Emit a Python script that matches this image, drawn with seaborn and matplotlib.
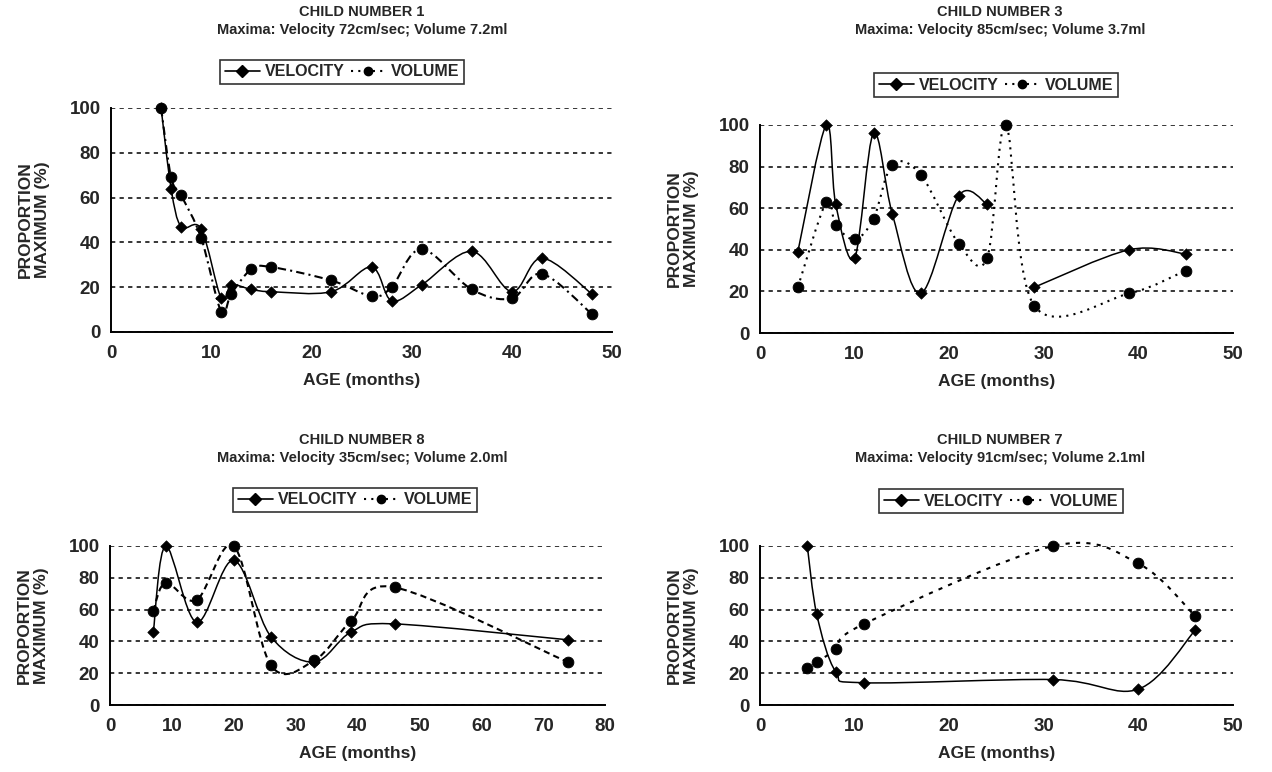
import numpy as np
import matplotlib
matplotlib.use("Agg")
import matplotlib.pyplot as plt
from matplotlib.path import Path
from matplotlib.patches import PathPatch
from matplotlib.lines import Line2D
import seaborn as sns

# ---------------- data ----------------
titles = ["CHILD NUMBER 1", "CHILD NUMBER 3", "CHILD NUMBER 8", "CHILD NUMBER 7"]
subtitles = ["Maxima: Velocity 72cm/sec; Volume 7.2ml",
             "Maxima: Velocity 85cm/sec; Volume 3.7ml",
             "Maxima: Velocity 35cm/sec; Volume 2.0ml",
             "Maxima: Velocity 91cm/sec; Volume 2.1ml"]

c1_age = [5, 6, 7, 9, 11, 12, 14, 16, 22, 26, 28, 31, 36, 40, 43, 48]
c1_vel = [100, 64, 47, 46, 15, 21, 19, 18, 18, 29, 14, 21, 36, 18, 33, 17]
c1_vol = [100, 69, 61, 42, 9, 17, 28, 29, 23, 16, 20, 37, 19, 15, 26, 8]

c3_age = [4, 7, 8, 10, 12, 14, 17, 21, 24, 26, 29, 39, 45]
c3_vel = [39, 100, 62, 36, 96, 57, 19, 66, 62, np.nan, 22, 40, 38]
c3_vol = [22, 63, 52, 45, 55, 81, 76, 43, 36, 100, 13, 19, 30]

c8_age = [7, 9, 14, 20, 26, 33, 39, 46, 74]
c8_vel = [46, 100, 52, 91, 43, 27, 46, 51, 41]
c8_vol = [59, 77, 66, 100, 25, 28, 53, 74, 27]

c7_age = [5, 6, 8, 11, 31, 40, 46]
c7_vel = [100, 57, 21, 14, 16, 10, 47]
c7_vol = [23, 27, 35, 51, 100, 89, 56]

x_max = [50, 50, 80, 50]
y_ticks = [0, 20, 40, 60, 80, 100]

# ---------------- style ----------------
sns.set_theme(style="white")
plt.rcParams["font.family"] = ["Liberation Sans", "DejaVu Sans"]
plt.rcParams["font.weight"] = "bold"

W, H = 1272, 772
fig = plt.figure(figsize=(W / 100, H / 100), dpi=100)

def fx(x):
    return x / W

def fy(y):
    return 1 - y / H

# pixel boxes: x0, ytop, x1, ybottom
boxes = [(111, 108, 612, 332), (760, 125, 1233, 333),
         (110, 546, 605, 705), (760, 546, 1233, 705)]
title_pos = [(362, 12, 30), (1000, 12, 30), (362, 440, 458), (1000, 440, 458)]
legend_pos = [(342, 72), (996, 85), (355, 500), (1001, 501)]
vol_ls = [(0, (4, 2, 1, 2)), (0, (1, 2.5)), (0, (3, 2)), (0, (2, 3))]

series = [(c1_age, c1_vel, c1_vol), (c3_age, c3_vel, c3_vol),
          (c8_age, c8_vel, c8_vol), (c7_age, c7_vel, c7_vol)]


def smooth_path(xs, ys):
    pts = np.column_stack([xs, ys]).astype(float)
    n = len(pts)
    verts = [pts[0]]
    codes = [Path.MOVETO]
    for i in range(n - 1):
        p0 = pts[i - 1] if i > 0 else pts[i]
        p1 = pts[i]
        p2 = pts[i + 1]
        p3 = pts[i + 2] if i + 2 < n else pts[i + 1]
        verts += [p1 + (p2 - p0) / 6, p2 - (p3 - p1) / 6, p2]
        codes += [Path.CURVE4] * 3
    return Path(verts, codes)


def draw_smooth(ax, xs, ys, ls, lw):
    xs = np.asarray(xs, float)
    ys = np.asarray(ys, float)
    ok = ~np.isnan(ys)
    seg_x, seg_y = [], []
    for xv, yv, good in zip(xs, ys, ok):
        if good:
            seg_x.append(xv)
            seg_y.append(yv)
        else:
            if len(seg_x) > 1:
                ax.add_patch(PathPatch(smooth_path(seg_x, seg_y), fill=False,
                                       ec="black", lw=lw, ls=ls, clip_on=False))
            seg_x, seg_y = [], []
    if len(seg_x) > 1:
        ax.add_patch(PathPatch(smooth_path(seg_x, seg_y), fill=False,
                               ec="black", lw=lw, ls=ls, clip_on=False))


for i in range(4):
    x0, yt, x1, yb = boxes[i]
    ax = fig.add_axes([fx(x0), fy(yb), fx(x1 - x0), (yb - yt) / H])
    age, vel, vol = series[i]

    draw_smooth(ax, age, vel, "-", 1.1)
    draw_smooth(ax, age, vol, vol_ls[i], 1.5)

    sns.scatterplot(x=age, y=vol, marker="o", s=60, color="black",
                    edgecolor="black", ax=ax, clip_on=False, zorder=4)
    sns.scatterplot(x=age, y=vel, marker="D", s=34, color="black",
                    edgecolor="black", ax=ax, clip_on=False, zorder=5)

    ax.set_xlim(0, x_max[i])
    ax.set_ylim(0, 100)
    ax.set_yticks(y_ticks)
    ax.set_xticks(np.arange(0, x_max[i] + 1, 10))
    ax.yaxis.grid(True, color="black", linestyle=(0, (2.8, 2.8)), lw=1.1)
    ax.xaxis.grid(False)
    ax.set_axisbelow(True)
    for s in ["top", "right"]:
        ax.spines[s].set_visible(False)
    for s in ["left", "bottom"]:
        ax.spines[s].set_color("black")
        ax.spines[s].set_linewidth(1.4)
    ax.tick_params(axis="both", direction="inout", length=7, width=1.2,
                   color="black", labelsize=13.5, pad=4)
    ax.tick_params(axis="x", pad=6)
    for lab in ax.get_xticklabels() + ax.get_yticklabels():
        lab.set_fontweight("bold")
    ax.set_xlabel("AGE (months)", fontsize=12.5, fontweight="bold", labelpad=8)
    ax.set_ylabel("PROPORTION\nMAXIMUM (%)", fontsize=12.5, fontweight="bold",
                  labelpad=14, linespacing=1.2)

    cx, ty1, ty2 = title_pos[i]
    fig.text(fx(cx), fy(ty1), titles[i], ha="center", va="center",
             fontsize=10.5, fontweight="bold")
    fig.text(fx(cx), fy(ty2), subtitles[i], ha="center", va="center",
             fontsize=10.5, fontweight="bold")

    handles = [Line2D([], [], color="black", lw=1.2, ls="-", marker="D", ms=6),
               Line2D([], [], color="black", lw=1.5, ls=(0, (1, 2.5)), marker="o", ms=6)]
    lx, ly = legend_pos[i]
    leg = ax.legend(handles, ["VELOCITY", "VOLUME"], loc="center",
                    bbox_to_anchor=(fx(lx), fy(ly)), bbox_transform=fig.transFigure,
                    ncol=2, frameon=True, fancybox=False, edgecolor="black",
                    fontsize=11.5, handlelength=2.2, handletextpad=0.3,
                    columnspacing=0.4, borderpad=0.3, borderaxespad=0)
    leg.get_frame().set_linewidth(1.2)
    for t in leg.get_texts():
        t.set_fontweight("bold")

fig.savefig("out.png", dpi=100)
